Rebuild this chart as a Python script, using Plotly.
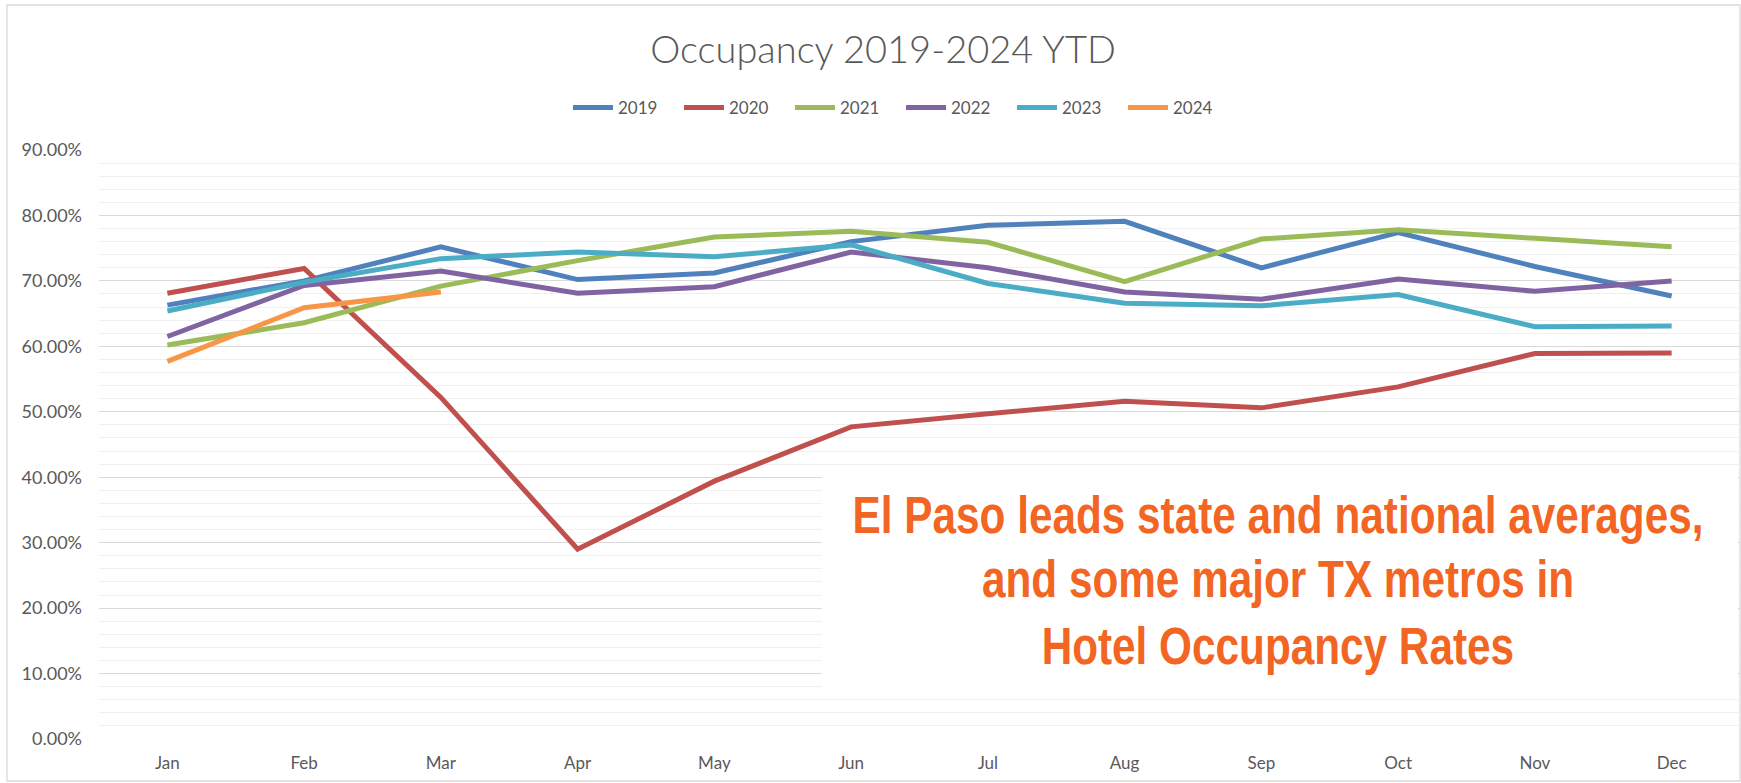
import plotly.graph_objects as go

months = ["Jan", "Feb", "Mar", "Apr", "May", "Jun", "Jul", "Aug", "Sep", "Oct", "Nov", "Dec"]

occ_2019 = [66.3, 70.0, 75.2, 70.2, 71.2, 76.0, 78.5, 79.1, 72.0, 77.4, 72.2, 67.7]
occ_2020 = [68.1, 71.9, 52.2, 29.0, 39.4, 47.7, 49.7, 51.6, 50.6, 53.8, 58.9, 59.0]
occ_2021 = [60.2, 63.6, 69.2, 73.1, 76.7, 77.6, 75.9, 69.9, 76.4, 77.8, 76.5, 75.2]
occ_2022 = [61.5, 69.3, 71.5, 68.1, 69.1, 74.4, 72.0, 68.3, 67.2, 70.3, 68.4, 70.0]
occ_2023 = [65.4, 69.8, 73.4, 74.4, 73.7, 75.5, 69.6, 66.6, 66.2, 67.9, 63.0, 63.1]
occ_2024 = [57.7, 65.9, 68.3]

series_names = ["2019", "2020", "2021", "2022", "2023", "2024"]
series_values = [occ_2019, occ_2020, occ_2021, occ_2022, occ_2023, occ_2024]
colors = ["#4F81BD", "#C0504D", "#9BBB59", "#8064A2", "#4BACC6", "#F79646"]

title_text = "Occupancy 2019-2024 YTD"
note_lines = ["El Paso leads state and national averages,",
              "and some major TX metros in",
              "Hotel Occupancy Rates"]

W, H = 1741, 783
L, R, T, B = 99, 1740, 150, 739  # plot area in px


def px2x(px):
    return (px - L) / (R - L)


def px2y(py):
    return (B - py) / (B - T)


fig = go.Figure()
for name, vals, col in zip(series_names, series_values, colors):
    fig.add_trace(go.Scatter(
        x=months[:len(vals)], y=[v / 100 for v in vals], name=name, mode="lines",
        line=dict(color=col, width=5),
    ))

fig.update_layout(
    width=W, height=H,
    margin=dict(l=L, r=W - R, t=T, b=H - B, pad=0),
    paper_bgcolor="white", plot_bgcolor="white",
    font=dict(family="Lato, Carlito, Calibri, sans-serif", color="#595959", size=17),
    title=dict(text=title_text, x=883 / W, xanchor="center", y=1 - 50 / H, yanchor="middle",
               xref="container", yref="container",
               font=dict(size=38, color="#595959", family="Lato, sans-serif", weight=300)),
    legend=dict(orientation="h", x=px2x(901), xanchor="center", y=px2y(108), yanchor="middle",
                font=dict(size=17, color="#595959"), entrywidth=56, bgcolor="rgba(0,0,0,0)",
                itemwidth=40, tracegroupgap=0),
    xaxis=dict(type="category", categoryorder="array", categoryarray=months,
               range=[-0.5, 11.5], showgrid=False, zeroline=False, showline=False,
               ticks="", tickfont=dict(size=17, color="#595959"), ticklabelstandoff=12),
    yaxis=dict(range=[0, 0.9], dtick=0.1, tick0=0, tickformat=".2%", showgrid=True,
               gridcolor="#D9D9D9", gridwidth=1.3, zeroline=False, showline=False, ticks="",
               tickfont=dict(size=18, color="#595959"), ticklabelstandoff=16,
               minor=dict(dtick=0.02, tick0=0, showgrid=True, gridcolor="#F0F0F0", gridwidth=1.3)),
    showlegend=True,
)

# chart border
fig.add_shape(type="rect", xref="paper", yref="paper",
              x0=px2x(7), x1=px2x(1740), y0=px2y(781), y1=px2y(5),
              line=dict(color="#D9D9D9", width=1.3), fillcolor="rgba(0,0,0,0)", layer="below")
# text box
fig.add_shape(type="rect", xref="paper", yref="paper",
              x0=px2x(822), x1=px2x(1738), y0=px2y(697), y1=px2y(472),
              line=dict(width=0), fillcolor="white", layer="above")

for line_text, ypx in zip(note_lines, [515, 579, 646]):
    fig.add_annotation(text=line_text, xref="paper", yref="paper", x=px2x(1278), y=px2y(ypx),
                       xanchor="center", yanchor="middle", showarrow=False, align="center",
                       font=dict(family="Liberation Sans, Arial, sans-serif",
                                 size=51, color="#F26522", weight="bold"))

post_js = """
document.body.style.margin = '0';
var ts = document.querySelectorAll('.annotation-text');
if (ts.length) {
  var s = 851 / ts[0].getBBox().width;
  if (s < 1) {
    ts.forEach(function (t) {
      var bb = t.getBBox();
      var cx = bb.x + bb.width / 2;
      t.setAttribute('transform', 'translate(' + cx + ',0) scale(' + s + ',1) translate(' + (-cx) + ',0)');
    });
  }
}
"""

fig.write_html("out.html", post_script=post_js, config={"displayModeBar": False})
